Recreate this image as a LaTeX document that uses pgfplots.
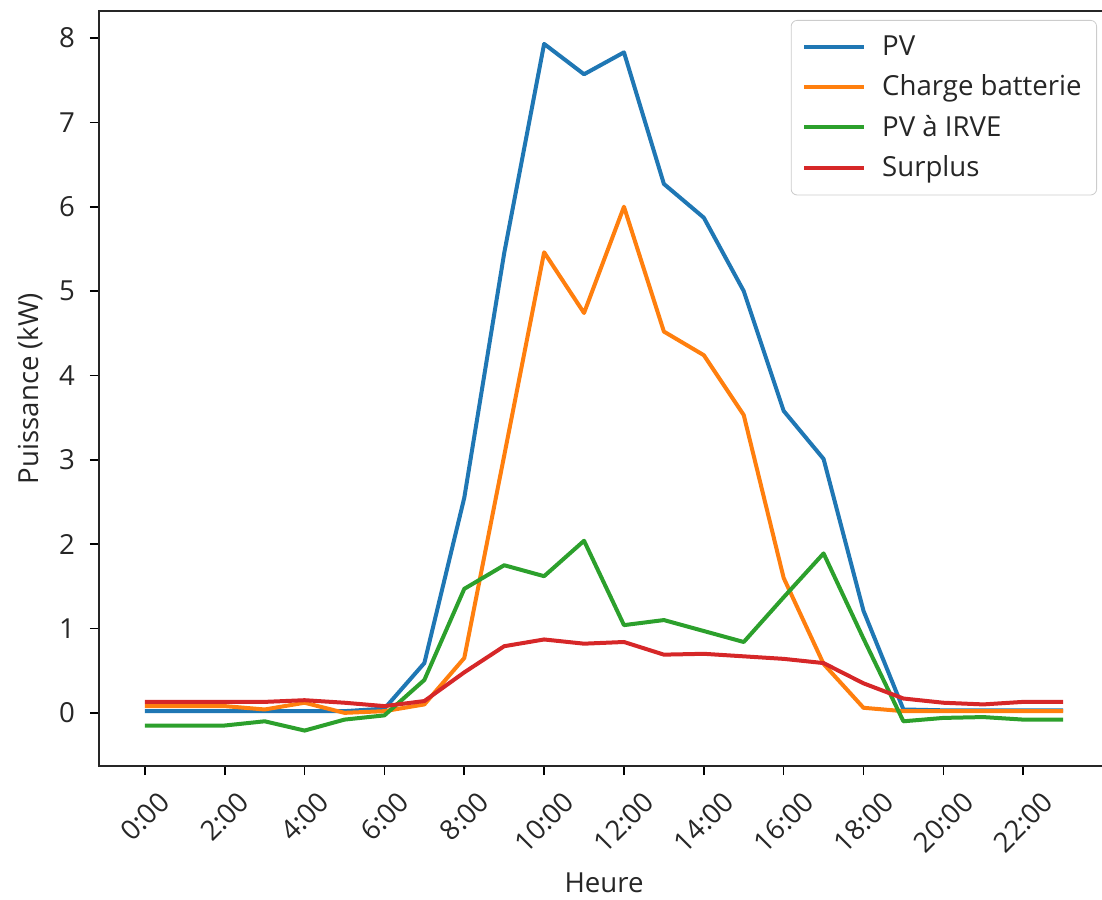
\documentclass[border=0pt]{standalone}
\usepackage{pgfplots}
\pgfplotsset{compat=1.18}
\usepackage{pgfplotstable}
\usepackage{fontspec}
\setmainfont{Open Sans}
\usetikzlibrary{calc}
\definecolor{tabblue}{HTML}{1F77B4}
\definecolor{taborange}{HTML}{FF7F0E}
\definecolor{tabgreen}{HTML}{2CA02C}
\definecolor{tabred}{HTML}{D62728}
\newcommand\ff{\fontsize{13.8}{16.5}\selectfont}
\pgfplotstableread{
h PV Charge IRVE Surplus
0 0.02 0.08 -0.15 0.13
1 0.02 0.08 -0.15 0.13
2 0.02 0.08 -0.15 0.13
3 0.02 0.04 -0.10 0.13
4 0.02 0.12 -0.21 0.15
5 0.02 0.00 -0.08 0.12
6 0.05 0.02 -0.03 0.08
7 0.59 0.10 0.39 0.14
8 2.55 0.65 1.47 0.48
9 5.45 3.05 1.75 0.79
10 7.93 5.46 1.62 0.87
11 7.57 4.74 2.04 0.82
12 7.83 6.00 1.04 0.84
13 6.27 4.52 1.10 0.69
14 5.87 4.24 0.97 0.70
15 5.00 3.53 0.84 0.67
16 3.58 1.60 1.37 0.64
17 3.01 0.58 1.89 0.59
18 1.21 0.06 0.88 0.35
19 0.04 0.02 -0.10 0.17
20 0.03 0.02 -0.06 0.12
21 0.03 0.02 -0.05 0.10
22 0.03 0.02 -0.08 0.13
23 0.03 0.02 -0.08 0.13
}\datatable
\begin{document}
\begin{tikzpicture}
\begin{axis}[
  scale only axis,
  width=505pt, height=377.5pt,
  xmin=-1.15, xmax=24.15,
  ymin=-0.63, ymax=8.32,
  xtick={0,2,...,22},
  xticklabels={\rotatebox{45}{0:00},\rotatebox{45}{2:00},\rotatebox{45}{4:00},\rotatebox{45}{6:00},\rotatebox{45}{8:00},\rotatebox{45}{10:00},\rotatebox{45}{12:00},\rotatebox{45}{14:00},\rotatebox{45}{16:00},\rotatebox{45}{18:00},\rotatebox{45}{20:00},\rotatebox{45}{22:00}},
  ytick={0,1,...,8},
  /pgf/number format/assume math mode=true,
  tick align=outside,
  major tick length=4.5pt,
  every tick/.style={black, line width=0.8pt},
  axis line style={line width=1pt, black!85},
  tick pos=left,
  tick label style={font=\ff, text=black!85},
  xticklabel style={anchor=north, yshift=-4pt},
  yticklabel style={anchor=east, xshift=-4pt},
  xlabel={Heure},
  ylabel={Puissance (kW)},
  label style={font=\ff, text=black!85},
  xlabel style={at={(axis description cs:0.5,0)}, anchor=center, yshift=-58.5pt},
  ylabel style={at={($(axis description cs:0,0.5)+(-34.5pt,0)$)}, anchor=center},
  legend style={font=\ff, at={(1,1)}, anchor=north east, xshift=-6pt, yshift=-4.5pt,
    draw=black!20, rounded corners=3pt, row sep=4.3pt, inner xsep=5.5pt, inner ysep=5.5pt,
    text=black!85},
  legend cell align=left,
  legend image code/.code={\draw[#1, line width=2pt] (0pt,0pt) -- (30pt,0pt); \path (36pt,0pt);},
  every axis plot/.append style={line width=2pt, line join=round},
]
\addplot[tabblue, no marks] table[x=h, y=PV] {\datatable};
\addlegendentry{PV}
\addplot[taborange, no marks] table[x=h, y=Charge] {\datatable};
\addlegendentry{Charge batterie}
\addplot[tabgreen, no marks] table[x=h, y=IRVE] {\datatable};
\addlegendentry{PV à IRVE}
\addplot[tabred, no marks] table[x=h, y=Surplus] {\datatable};
\addlegendentry{Surplus}
\end{axis}
\pgfresetboundingbox
\path[use as bounding box] ($(current axis.south west)+(-49.5pt,-66.5pt)$) rectangle ($(current axis.north east)+(-3.5pt,5.5pt)$);
\end{tikzpicture}
\end{document}
